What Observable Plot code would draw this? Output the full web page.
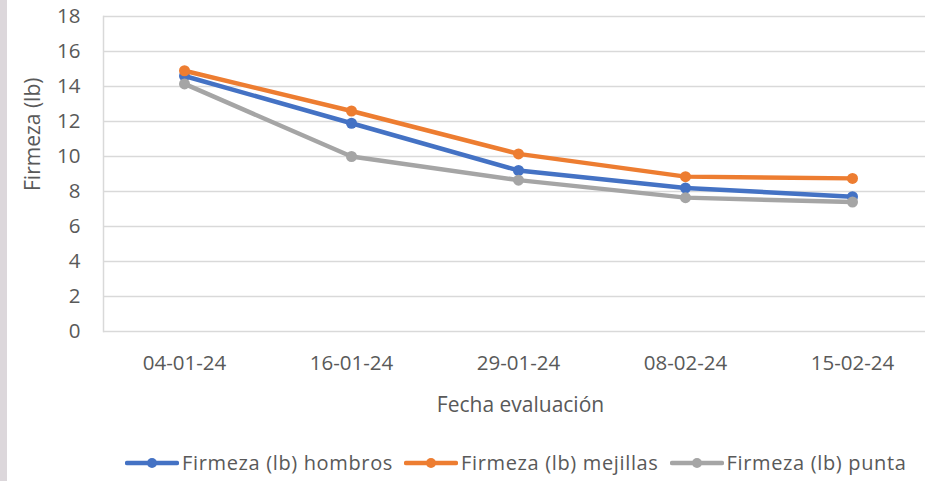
<!DOCTYPE html>
<html>
<head>
<meta charset="utf-8">
<script src="https://cdn.jsdelivr.net/npm/d3@7"></script>
<script src="https://cdn.jsdelivr.net/npm/@observablehq/plot@0.6"></script>
<style>
  body { margin: 0; background: #fff; font-family: "Open Sans", sans-serif; }
  #wrap { position: relative; width: 925px; height: 481px; overflow: hidden; background: #fff; }
  #strip { position: absolute; left: 0; top: 0; width: 7px; height: 481px; background: #dcd7db; }
  #chart { position: absolute; left: 0; top: 0; }
  #legend { position: absolute; left: 0; top: 449px; width: 925px; padding-left: 125px; box-sizing: border-box;
            display: flex; justify-content: flex-start; align-items: center; font-size: 20px; letter-spacing: 0.65px; color: #595959; }
  .item { display: flex; align-items: center; margin-right: 11px; white-space: nowrap; }
  .item svg { margin-right: 3px; }
</style>
</head>
<body>
<div id="wrap">
  <div id="strip"></div>
  <div id="chart"></div>
  <div id="legend"></div>
</div>
<script>
const fechas = ["04-01-24", "16-01-24", "29-01-24", "08-02-24", "15-02-24"];
const hombros = [14.6, 11.9, 9.2, 8.2, 7.7];
const mejillas = [14.9, 12.6, 10.15, 8.85, 8.75];
const punta = [14.15, 10.0, 8.65, 7.65, 7.4];
const yTicks = [0, 2, 4, 6, 8, 10, 12, 14, 16, 18];
const seriesNames = ["Firmeza (lb) hombros", "Firmeza (lb) mejillas", "Firmeza (lb) punta"];
const seriesColors = ["#4472C4", "#ED7D31", "#A5A5A5"];
const seriesValues = [hombros, mejillas, punta];

const data = [];
seriesNames.forEach((s, i) => {
  fechas.forEach((f, j) => data.push({serie: s, fecha: f, valor: seriesValues[i][j]}));
});

const marks = [
  Plot.ruleY(yTicks, {stroke: "#d9d9d9", strokeWidth: 1.5}),
  Plot.frame({anchor: "left", stroke: "#d9d9d9", strokeWidth: 1.5}),
  Plot.axisY({ticks: yTicks, tickSize: 0, tickPadding: 23, label: null, fontSize: 20.5}),
  Plot.axisX({tickSize: 0, tickPadding: 24, label: null, fontSize: 20.5}),
  Plot.text(["Fecha evaluación"], {frameAnchor: "bottom", dx: 6, dy: 74, fontSize: 21, lineAnchor: "middle"}),
  Plot.text(["Firmeza (lb)"], {frameAnchor: "left", rotate: -90, dx: -70, dy: 17, fontSize: 21, lineAnchor: "middle"})
];
seriesNames.forEach((s, i) => {
  const d = data.filter(r => r.serie === s);
  marks.push(Plot.line(d, {x: "fecha", y: "valor", stroke: seriesColors[i], strokeWidth: 4.5, strokeLinejoin: "round", strokeLinecap: "round"}));
  marks.push(Plot.dot(d, {x: "fecha", y: "valor", fill: seriesColors[i], r: 5.5}));
});

const chart = Plot.plot({
  width: 925,
  height: 425,
  marginLeft: 103,
  marginRight: 0,
  marginTop: 16,
  marginBottom: 94,
  style: {fontFamily: "Open Sans", color: "#595959", background: "transparent"},
  x: {type: "point", domain: fechas, range: [183, 853], padding: 0},
  y: {domain: [0, 18]},
  marks
});
document.getElementById("chart").appendChild(chart);

const legend = document.getElementById("legend");
seriesNames.forEach((s, i) => {
  const item = document.createElement("div");
  item.className = "item";
  item.innerHTML = `<svg width="54" height="14"><line x1="2" y1="7" x2="52" y2="7" stroke="${seriesColors[i]}" stroke-width="4.5" stroke-linecap="round"/><circle cx="27" cy="7" r="5" fill="${seriesColors[i]}"/></svg><span>${s}</span>`;
  legend.appendChild(item);
});
</script>
</body>
</html>
